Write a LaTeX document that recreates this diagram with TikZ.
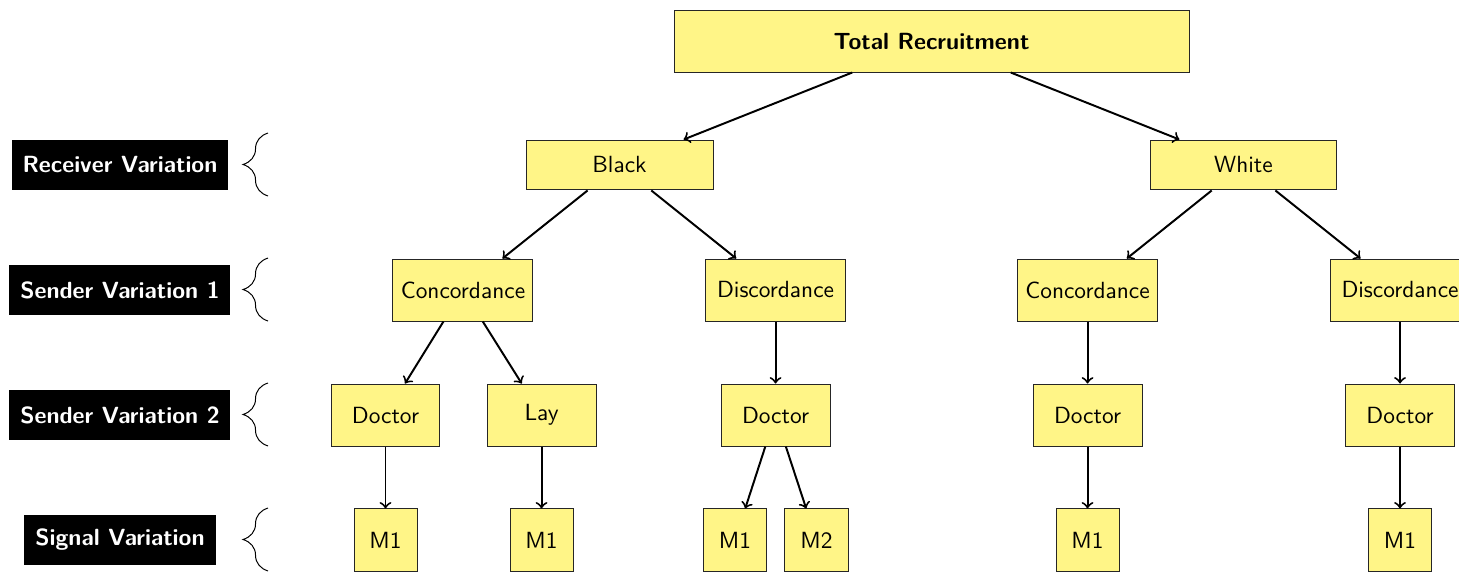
\documentclass[tikz,border=0pt]{standalone}
\usepackage{tikz}
\usetikzlibrary{decorations.pathreplacing}
\definecolor{boxyellow}{RGB}{255,245,135}

\begin{document}
\begin{tikzpicture}[font=\fontsize{9.5}{11}\sffamily,
  box/.style={draw=black!85,fill=boxyellow,inner sep=1pt,minimum height=0.886cm},
  level/.style={fill=black,text=white,font=\fontsize{9.5}{11}\sffamily\bfseries,inner sep=1pt,minimum height=0.714cm},
  link/.style={->,thick},
  brace/.style={decorate,decoration={brace,amplitude=0.357cm},thin}]
\useasboundingbox (0,0) rectangle (20.843,-8.171);
            % Levels
\node[level,minimum width=3.086cm] (recv) at (1.714,-2.357) {Receiver Variation};
\node[level,minimum width=3.157cm] (send1) at (1.714,-4.143) {Sender Variation 1};
\node[level,minimum width=3.157cm] (send2) at (1.714,-5.929) {Sender Variation 2};
\node[level,minimum width=2.743cm] (signal) at (1.714,-7.714) {Signal Variation};
\foreach \ytop/\ybot in {-1.9/-2.8,-3.686/-4.586,-5.471/-6.371,-7.257/-8.157}
  \draw[brace] (3.829,\ybot) -- (3.829,\ytop);
            % Boxes
\node[box,font=\fontsize{9.5}{11}\sffamily\bfseries,minimum width=7.357cm] (total) at (13.307,-0.586) {Total Recruitment};
\node[box,minimum width=2.671cm,minimum height=0.714cm] (black) at (8.85,-2.357) {Black};
\node[box,minimum width=2.671cm,minimum height=0.714cm] (white) at (17.764,-2.357) {White};
\node[box,minimum width=2cm] (concB) at (6.614,-4.143) {Concordance};
\node[box,minimum width=2cm] (discB) at (11.079,-4.143) {Discordance};
\node[box,minimum width=2cm] (concW) at (15.536,-4.143) {Concordance};
\node[box,minimum width=2cm] (discW) at (20.0,-4.143) {Discordance};
\node[box,minimum width=1.557cm] (docCB) at (5.507,-5.929) {Doctor};
\node[box,minimum width=1.557cm] (layCB) at (7.736,-5.929) {Lay};
\node[box,minimum width=1.557cm] (docDB) at (11.079,-5.929) {Doctor};
\node[box,minimum width=1.557cm] (docCW) at (15.536,-5.929) {Doctor};
\node[box,minimum width=1.557cm] (docDW) at (20.0,-5.929) {Doctor};
\node[box,minimum width=0.9cm] (mA) at (5.507,-7.714) {M1};
\node[box,minimum width=0.9cm] (mB) at (7.736,-7.714) {M1};
\node[box,minimum width=0.9cm] (mC) at (10.5,-7.714) {M1};
\node[box,minimum width=0.9cm] (mD) at (11.664,-7.714) {M2};
\node[box,minimum width=0.9cm] (mE) at (15.536,-7.714) {M1};
\node[box,minimum width=0.9cm] (mF) at (20.0,-7.714) {M1};
            % Links
\draw[link] (total) -- (black);
\draw[link] (total) -- (white);
\draw[link] (black) -- (concB);
\draw[link] (black) -- (discB);
\draw[link] (white) -- (concW);
\draw[link] (white) -- (discW);
\draw[link] (concB) -- (docCB);
\draw[link] (concB) -- (layCB);
\draw[link] (discB) -- (docDB);
\draw[link] (concW) -- (docCW);
\draw[link] (discW) -- (docDW);
\draw[link] (docCB) -- (mA);
\draw[link] (layCB) -- (mB);
\draw[link] (docDB) -- (mC);
\draw[link] (docDB) -- (mD);
\draw[link] (docCW) -- (mE);
\draw[link] (docDW) -- (mF);

\end{tikzpicture}
\end{document}
